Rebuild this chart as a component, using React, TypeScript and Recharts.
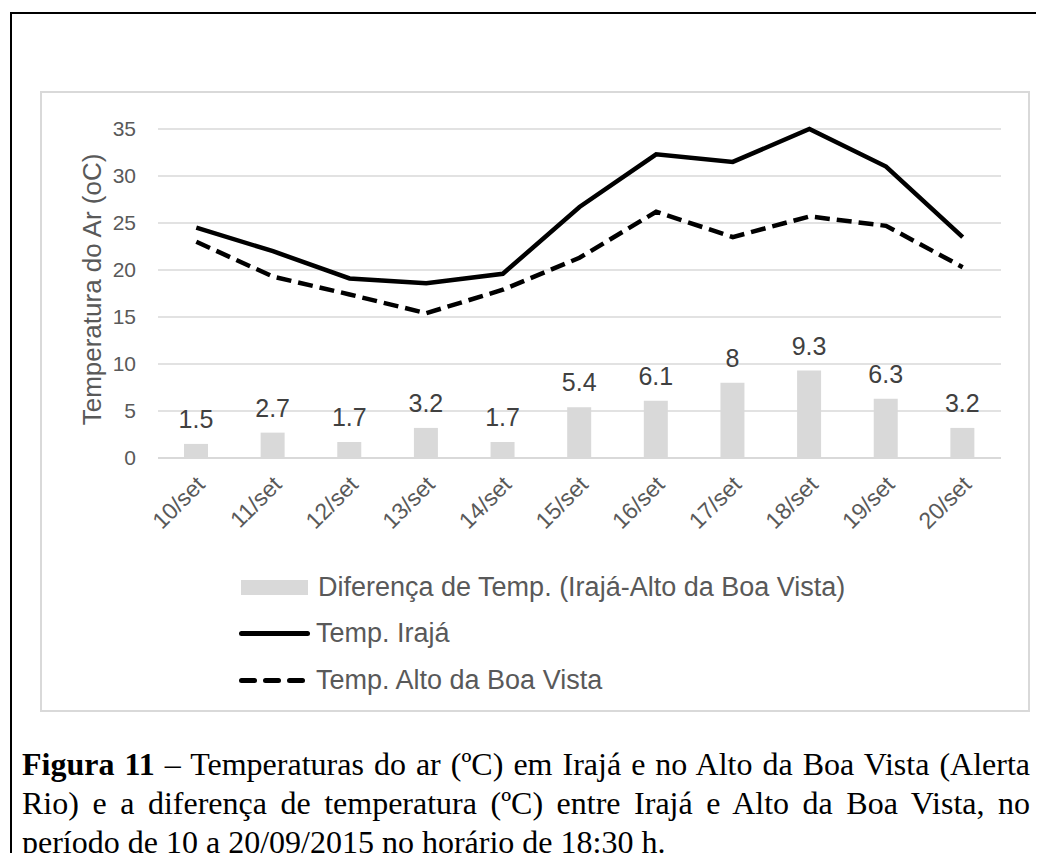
import { ComposedChart, Bar, Line, XAxis, YAxis, CartesianGrid, LabelList } from "recharts";

const DAYS = ["10/set", "11/set", "12/set", "13/set", "14/set", "15/set", "16/set", "17/set", "18/set", "19/set", "20/set"];
const DIFF = [1.5, 2.7, 1.7, 3.2, 1.7, 5.4, 6.1, 8, 9.3, 6.3, 3.2];
const IRAJA = [24.5, 22.0, 19.1, 18.6, 19.6, 26.7, 32.3, 31.5, 35.0, 31.0, 23.5];
const BOA_VISTA = [23.0, 19.3, 17.4, 15.4, 17.9, 21.3, 26.2, 23.5, 25.7, 24.7, 20.3];
const Y_TICKS = [0, 5, 10, 15, 20, 25, 30, 35];
const BOUNDS = [0, 1, 2, 3, 4, 5, 6, 7, 8, 9, 10, 11];

const SERIES = [
  { key: "diff", label: "Diferença de Temp. (Irajá-Alto da Boa Vista)", kind: "bar" },
  { key: "iraja", label: "Temp. Irajá", kind: "line" },
  { key: "boa", label: "Temp. Alto da Boa Vista", kind: "dash" },
];

// caption lines as broken in the source figure
const CAPTION = [
  "– Temperaturas do ar (ºC) em Irajá e no Alto da Boa Vista (Alerta",
  "Rio) e a diferença de temperatura (ºC) entre Irajá e Alto da Boa Vista, no",
  "período de 10 a 20/09/2015 no horário de 18:30 h.",
];

const data = DAYS.map((d, i) => ({ day: d, diff: DIFF[i], iraja: IRAJA[i], boa: BOA_VISTA[i] }));

const SANS = "'Liberation Sans', Arial, sans-serif";
const SERIF = "'Liberation Serif', 'Times New Roman', serif";
const GRID = "#d9d9d9";

const DayTick = (props: any) => {
  const { x, y, payload } = props;
  return (
    <text
      x={x + 10}
      y={y + 20}
      transform={`rotate(-45 ${x + 10} ${y + 20})`}
      textAnchor="end"
      fontSize={23}
      fontFamily={SANS}
      fill="#595959"
    >
      {payload.value}
    </text>
  );
};

const BarValue = (props: any) => {
  const { x, y, width, value } = props;
  return (
    <text x={x + width / 2} y={y - 16} textAnchor="middle" fontSize={25} fontFamily={SANS} fill="#404040">
      {value}
    </text>
  );
};

const LegendIcon = ({ kind }: { kind: string }) => {
  if (kind === "bar") return <span style={{ display: "inline-block", width: 67, height: 15, background: GRID }} />;
  if (kind === "line")
    return <span style={{ display: "inline-block", width: 71, height: 5, borderRadius: 3, background: "#000" }} />;
  return (
    <span style={{ display: "inline-flex", width: 71, gap: 6 }}>
      {[0, 1, 2].map((k) => (
        <span key={k} style={{ display: "inline-block", width: 18, height: 5, borderRadius: 3, background: "#000" }} />
      ))}
    </span>
  );
};

export default function App() {
  return (
    <div style={{ position: "relative", width: 1044, height: 861, margin: -8, overflow: "hidden", background: "#fff" }}>
      <div
        style={{
          position: "absolute",
          left: 10,
          top: 12,
          width: 1100,
          height: 900,
          border: "2px solid #000",
        }}
      />
      <div
        style={{
          position: "absolute",
          left: 40,
          top: 91,
          width: 990,
          height: 621,
          boxSizing: "border-box",
          border: `2px solid ${GRID}`,
        }}
      />
      <div style={{ position: "absolute", left: 0, top: 0 }}>
        <ComposedChart width={1044} height={720} data={data} margin={{ top: 129, right: 43, bottom: 162, left: 0 }}>
          <CartesianGrid vertical={false} stroke={GRID} strokeWidth={1.5} />
          <XAxis
            xAxisId="bounds"
            type="number"
            domain={[0, 11]}
            ticks={BOUNDS}
            allowDataOverflow
            tick={false}
            axisLine={false}
            tickLine={{ stroke: GRID, strokeWidth: 2 }}
            tickSize={8}
            height={0}
          />
          <XAxis
            dataKey="day"
            tick={<DayTick />}
            tickLine={false}
            axisLine={{ stroke: GRID, strokeWidth: 2 }}
            interval={0}
            height={100}
          />
          <YAxis
            domain={[0, 35]}
            ticks={Y_TICKS}
            width={158}
            axisLine={false}
            tickLine={false}
            tickSize={0}
            tickMargin={22}
            tick={{ fontSize: 21, fontFamily: SANS, fill: "#595959" }}
            label={({ viewBox }: any) => {
              const cx = viewBox.x + 92;
              const cy = viewBox.y + viewBox.height / 2 - 4;
              return (
                <text
                  x={cx}
                  y={cy}
                  transform={`rotate(-90 ${cx} ${cy})`}
                  textAnchor="middle"
                  dominantBaseline="central"
                  fontSize={26}
                  fontFamily={SANS}
                  fill="#595959"
                >
                  Temperatura do Ar (oC)
                </text>
              );
            }}
          />
          <Bar dataKey="diff" fill={GRID} barSize={24} isAnimationActive={false}>
            <LabelList dataKey="diff" content={<BarValue />} />
          </Bar>
          <Line dataKey="iraja" stroke="#000" strokeWidth={4.5} dot={false} isAnimationActive={false} />
          <Line
            dataKey="boa"
            stroke="#000"
            strokeWidth={4.5}
            strokeDasharray="15 7"
            dot={false}
            isAnimationActive={false}
          />
        </ComposedChart>
      </div>
      <div style={{ position: "absolute", left: 239, top: 564, fontFamily: SANS, fontSize: 27, color: "#595959" }}>
        {SERIES.map((s) => (
          <div key={s.key} style={{ display: "flex", alignItems: "center", height: 46.5 }}>
            <span style={{ width: 77, display: "inline-flex", alignItems: "center", paddingLeft: s.kind === "bar" ? 2 : 0 }}>
              <LegendIcon kind={s.kind} />
            </span>
            <span>{s.label}</span>
          </div>
        ))}
      </div>
      <div
        style={{
          position: "absolute",
          left: 22,
          top: 745,
          width: 1008,
          fontFamily: SERIF,
          fontSize: 32,
          lineHeight: "39px",
          color: "#000",
        }}
      >
        {CAPTION.map((line, i) => (
          <div
            key={i}
            style={{
              textAlign: i < 2 ? "justify" : "left",
              textAlignLast: i < 2 ? "justify" : "left",
              whiteSpace: "nowrap",
            }}
          >
            {i === 0 && <b>Figura 11 </b>}
            {line}
          </div>
        ))}
      </div>
    </div>
  );
}
